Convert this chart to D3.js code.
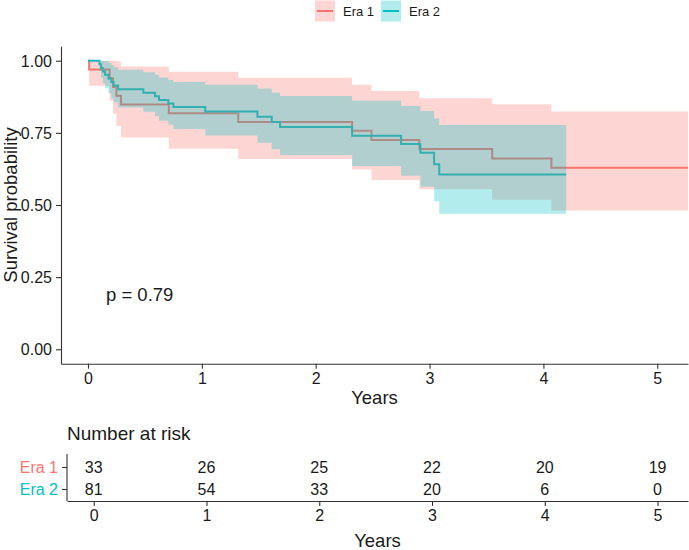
<!DOCTYPE html>
<html>
<head>
<meta charset="utf-8">
<script src="https://cdn.jsdelivr.net/npm/d3@7"></script>
<style>
  html, body { margin: 0; padding: 0; background: #fff; }
  svg { display: block; font-family: "Liberation Sans", Arial, sans-serif; }
</style>
</head>
<body>
<svg id="chart" width="689" height="550"></svg>
<script>
// ---------------- Data ----------------
const groups = ["Era 1", "Era 2"];
const groupColors = ["#F8766D", "#00BFC4"];

// Era 1 Kaplan-Meier steps (time in years)
const era1Time  = [0, 0.01, 0.19, 0.22, 0.25, 0.29, 0.71, 1.32, 2.32, 2.49, 2.91, 3.55, 4.07, 5.27];
const era1Surv  = [1, 0.970, 0.939, 0.909, 0.879, 0.848, 0.818, 0.788, 0.757, 0.725, 0.694, 0.661, 0.629, 0.629];
const era1Upper = [1, 1, 1, 1, 0.998, 0.980, 0.962, 0.941, 0.917, 0.895, 0.870, 0.849, 0.824, 0.824];
const era1Lower = [1, 0.913, 0.861, 0.816, 0.774, 0.734, 0.695, 0.659, 0.623, 0.587, 0.555, 0.518, 0.481, 0.481];

// Era 2 Kaplan-Meier steps
const era2Time  = [0, 0.10, 0.115, 0.13, 0.15, 0.18, 0.205, 0.225, 0.265, 0.486, 0.589, 0.624, 0.706, 0.75, 1.03, 1.488, 1.614, 1.687, 2.32, 2.75, 2.92, 3.04, 3.085, 4.20];
const era2Surv  = [1, 0.988, 0.975, 0.963, 0.951, 0.938, 0.926, 0.914, 0.901, 0.889, 0.877, 0.864, 0.852, 0.840, 0.824, 0.806, 0.788, 0.770, 0.740, 0.711, 0.681, 0.641, 0.606, 0.606];
const era2Upper = [1, 1, 1, 1, 0.999, 0.992, 0.985, 0.977, 0.969, 0.960, 0.951, 0.942, 0.933, 0.926, 0.917, 0.904, 0.890, 0.878, 0.861, 0.843, 0.826, 0.800, 0.777, 0.777];
const era2Lower = [1, 0.964, 0.942, 0.922, 0.905, 0.887, 0.870, 0.855, 0.838, 0.823, 0.808, 0.792, 0.778, 0.763, 0.741, 0.716, 0.693, 0.673, 0.635, 0.601, 0.563, 0.513, 0.470, 0.470];

// Axis ticks
const xTicks = [0, 1, 2, 3, 4, 5];
const yTicks = [0, 0.25, 0.5, 0.75, 1];

// Risk table
const riskTimes = [0, 1, 2, 3, 4, 5];
const riskEra1 = [33, 26, 25, 22, 20, 19];
const riskEra2 = [81, 54, 33, 20, 6, 0];

const pValueText = "p = 0.79";

// ---------------- Layout ----------------
const svg = d3.select("#chart");
const textColor = "#1a1a1a";
const axisColor = "#333";

const xDomain = [-0.237, 5.27];
const x = d3.scaleLinear().domain(xDomain).range([61, 688]);
const y = d3.scaleLinear().domain([-0.05, 1.05]).range([363.7, 46.3]);

// clip
svg.append("defs").append("clipPath").attr("id", "panel")
  .append("rect").attr("x", 61).attr("y", 46.3).attr("width", 627).attr("height", 317.4);

const series = [
  { name: groups[0], color: groupColors[0], data: era1Time.map((t, i) => ({ t, s: era1Surv[i], lo: era1Lower[i], hi: era1Upper[i] })) },
  { name: groups[1], color: groupColors[1], data: era2Time.map((t, i) => ({ t, s: era2Surv[i], lo: era2Lower[i], hi: era2Upper[i] })) }
];

const line = d3.line().x(d => x(d.t)).y(d => y(d.s)).curve(d3.curveStepAfter);
const area = d3.area().x(d => x(d.t)).y0(d => y(d.lo)).y1(d => y(d.hi)).curve(d3.curveStepAfter);

const plot = svg.append("g").attr("clip-path", "url(#panel)");
// lines first, ribbons over them (as in survminer)
series.forEach(s => {
  plot.append("path").attr("d", line(s.data)).attr("fill", "none")
    .attr("stroke", s.color).attr("stroke-width", 2);
});
series.forEach(s => {
  plot.append("path").attr("d", area(s.data)).attr("fill", s.color)
    .attr("fill-opacity", 0.3).attr("stroke", "none");
});

// axes
function styleAxis(g) {
  g.selectAll(".domain").attr("stroke", axisColor).attr("stroke-width", 1.1);
  g.selectAll(".tick line").attr("stroke", axisColor).attr("stroke-width", 1.1);
  g.selectAll(".tick text").attr("fill", textColor).attr("font-size", 16)
    .attr("font-family", "Liberation Sans, Arial, sans-serif");
}

const yAxis = svg.append("g").attr("transform", "translate(61,0)")
  .call(d3.axisLeft(y).tickValues(yTicks).tickFormat(d3.format(".2f")).tickSize(5).tickSizeOuter(0).tickPadding(4));
styleAxis(yAxis);
yAxis.selectAll(".tick text").attr("dy", "0.35em");

const xAxis = svg.append("g").attr("transform", "translate(0,363.7)")
  .call(d3.axisBottom(x).tickValues(xTicks).tickFormat(d3.format("d")).tickSize(5).tickSizeOuter(0).tickPadding(4));
styleAxis(xAxis);

// axis titles
svg.append("text").attr("x", 374.5).attr("y", 398).attr("dy", "0.35em")
  .attr("text-anchor", "middle").attr("font-size", 18.5).attr("fill", textColor).text("Years");
svg.append("text").attr("transform", "translate(11,205) rotate(-90)").attr("dy", "0.35em")
  .attr("text-anchor", "middle").attr("font-size", 18.5).attr("fill", textColor).text("Survival probability");

// p-value
svg.append("text").attr("x", 106).attr("y", 295).attr("dy", "0.35em")
  .attr("font-size", 18.5).attr("fill", textColor).text(pValueText);

// legend
const legendX = [315, 381];
groups.forEach((g, i) => {
  const lg = svg.append("g").attr("transform", `translate(${legendX[i]},0)`);
  lg.append("rect").attr("x", 0).attr("y", 0.5).attr("width", 20).attr("height", 21)
    .attr("fill", groupColors[i]).attr("fill-opacity", 0.3);
  lg.append("line").attr("x1", 2).attr("x2", 18).attr("y1", 11).attr("y2", 11)
    .attr("stroke", groupColors[i]).attr("stroke-width", 2);
  lg.append("text").attr("x", 28).attr("y", 11).attr("dy", "0.35em")
    .attr("font-size", 13).attr("fill", textColor).text(g);
});

// ---------------- Risk table ----------------
const xr = d3.scaleLinear().domain(xDomain).range([67, 688]);
const yr = d3.scalePoint().domain(groups).range([467, 489]);

svg.append("text").attr("x", 67).attr("y", 433).attr("dy", "0.35em")
  .attr("font-size", 19).attr("fill", textColor).text("Number at risk");

const yrAxis = svg.append("g").attr("transform", "translate(67,0)")
  .call(d3.axisLeft(yr).tickSize(5).tickSizeOuter(0).tickPadding(4));
yrAxis.select(".domain").attr("d", "M0,454V501");
styleAxis(yrAxis);
yrAxis.selectAll(".tick text").attr("fill", (d, i) => groupColors[i]).attr("dy", "0.35em");

const xrAxis = svg.append("g").attr("transform", "translate(0,501)")
  .call(d3.axisBottom(xr).tickValues(xTicks).tickFormat(d3.format("d")).tickSize(5).tickSizeOuter(0).tickPadding(4));
styleAxis(xrAxis);

const riskRows = [riskEra1, riskEra2];
riskRows.forEach((row, gi) => {
  svg.append("g").selectAll("text").data(row).join("text")
    .attr("x", (d, i) => xr(riskTimes[i]))
    .attr("y", yr(groups[gi])).attr("dy", "0.35em")
    .attr("text-anchor", "middle").attr("font-size", 16).attr("fill", textColor)
    .text(d => d);
});

svg.append("text").attr("x", 377.5).attr("y", 541).attr("dy", "0.35em")
  .attr("text-anchor", "middle").attr("font-size", 18.5).attr("fill", textColor).text("Years");
</script>
</body>
</html>
